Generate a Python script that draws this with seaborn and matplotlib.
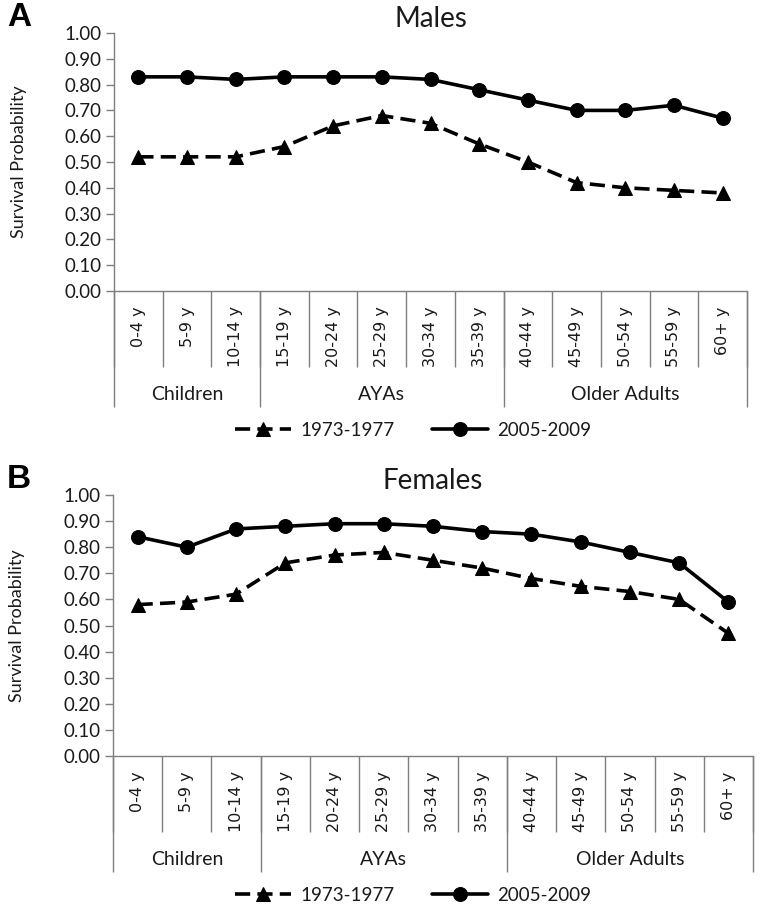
import numpy as np
import pandas as pd
import matplotlib
matplotlib.use("Agg")
import matplotlib.pyplot as plt
import seaborn as sns

sns.set_style("ticks")
plt.rcParams['font.family'] = ['Lato', 'DejaVu Sans']

age_groups = ["0-4 y", "5-9 y", "10-14 y", "15-19 y", "20-24 y", "25-29 y",
              "30-34 y", "35-39 y", "40-44 y", "45-49 y", "50-54 y",
              "55-59 y", "60+ y"]
life_stages = ["Children", "AYAs", "Older Adults"]
stage_sizes = [3, 5, 5]
periods = ["1973-1977", "2005-2009"]

males_1973 = [0.52, 0.52, 0.52, 0.56, 0.64, 0.68, 0.65, 0.57, 0.50, 0.42, 0.40, 0.39, 0.38]
males_2005 = [0.83, 0.83, 0.82, 0.83, 0.83, 0.83, 0.82, 0.78, 0.74, 0.70, 0.70, 0.72, 0.67]
females_1973 = [0.58, 0.59, 0.62, 0.74, 0.77, 0.78, 0.75, 0.72, 0.68, 0.65, 0.63, 0.60, 0.47]
females_2005 = [0.84, 0.80, 0.87, 0.88, 0.89, 0.89, 0.88, 0.86, 0.85, 0.82, 0.78, 0.74, 0.59]

W, H = 760, 905
grey = "#7f7f7f"
txt = "#1a1a1a"

fig = plt.figure(figsize=(W / 100, H / 100), dpi=100)
# axes boxes in pixels: left, top, right, bottom
boxes = [(114, 33, 747, 291), (113, 495, 753, 756)]
panels = [("A", "Males", males_1973, males_2005),
          ("B", "Females", females_1973, females_2005)]


def px_frac(ax, px):
    return px / (H * ax.get_position().height)


for (left, top, right, bottom), (letter, title, v1973, v2005) in zip(boxes, panels):
    ax = fig.add_axes([left / W, 1 - bottom / H, (right - left) / W, (bottom - top) / H])
    df = pd.DataFrame({"Age": age_groups * 2,
                       "Period": np.repeat(periods, len(age_groups)),
                       "Survival": v1973 + v2005})
    sns.lineplot(data=df, x="Age", y="Survival", style="Period",
                 style_order=periods,
                 markers={"1973-1977": "^", "2005-2009": "o"},
                 dashes={"1973-1977": (4.2, 2.0), "2005-2009": ""},
                 color="black", linewidth=2.6, markersize=10,
                 markeredgecolor="black", sort=False, legend=False, ax=ax)

    ax.set_xlim(-0.5, len(age_groups) - 0.5)
    ax.set_ylim(0, 1)
    ax.set_yticks(np.arange(0, 1.01, 0.1))
    ax.set_yticklabels([f"{v:.2f}" for v in np.arange(0, 1.01, 0.1)],
                       fontsize=13.5, color=txt)
    ax.set_xticks(range(len(age_groups)))
    ax.set_xticklabels(age_groups, rotation=90, fontsize=11.5,
                       family="DejaVu Sans", color=txt)
    ax.tick_params(axis="x", length=0, pad=11)
    ax.tick_params(axis="y", length=6, width=1, color=grey, pad=3)
    ax.set_xlabel("")
    ax.set_ylabel("Survival Probability", fontsize=13, color=txt)
    ax.yaxis.set_label_coords(-0.138, 0.5)
    ax.set_title(title, fontsize=20, color=txt, pad=4)
    sns.despine(ax=ax)
    for s in ["left", "bottom"]:
        ax.spines[s].set_color(grey)
        ax.spines[s].set_linewidth(1.0)

    # category dividers below the axis
    trans = ax.get_xaxis_transform()
    bounds = np.arange(len(age_groups) + 1) - 0.5
    ax.vlines(bounds, -px_frac(ax, 76), 0, transform=trans, clip_on=False,
              color=grey, lw=1.0)
    edges = np.concatenate([[0], np.cumsum(stage_sizes)]) - 0.5
    ax.vlines(edges, -px_frac(ax, 116), 0, transform=trans, clip_on=False,
              color=grey, lw=1.0)
    for name, a, b in zip(life_stages, edges[:-1], edges[1:]):
        ax.text((a + b) / 2, -px_frac(ax, 103), name, transform=trans,
                ha="center", va="center", fontsize=14, color=txt)

    fig.legend(handles=ax.lines[:2], labels=periods, loc="center",
               bbox_to_anchor=(413 / W, 1 - (bottom + 139) / H), ncol=2,
               frameon=False, fontsize=13.5, handlelength=3.0,
               handletextpad=0.5, columnspacing=2.0, labelcolor=txt)

    fig.text(7 / W, 1 - (top - 31) / H, letter, fontsize=24, weight="bold",
             family="Liberation Sans", ha="left", va="top", color="black")

fig.savefig("out.png", dpi=100)
